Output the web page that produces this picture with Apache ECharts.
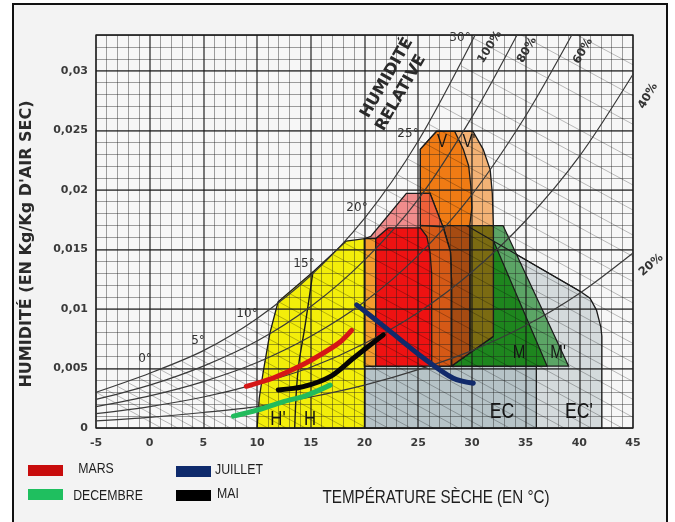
<!DOCTYPE html>
<html>
<head>
<meta charset="utf-8">
<script src="https://cdn.jsdelivr.net/npm/echarts@6/dist/echarts.min.js"></script>
<style>
  html, body { margin: 0; padding: 0; background: #ffffff; }
  #frame { position: absolute; left: 12px; top: 3px; width: 652px; height: 530px;
           border: 2px solid #111; background: #f3f3f3; }
  #chart { position: absolute; left: 0; top: 0; width: 675px; height: 522px; }
</style>
</head>
<body>
<div id="frame"></div>
<div id="chart"></div>
<script>
// ---- Axis ticks -------------------------------------------------------
const yTickValues = [0, 0.005, 0.01, 0.015, 0.02, 0.025, 0.03];
const yTickLabels = ['0', '0,005', '0,01', '0,015', '0,02', '0,025', '0,03'];

// ---- Relative humidity curves [dry-bulb °C, kg/kg] --------------------
const rh100 = [[-5, 0.0030], [0, 0.0046], [5, 0.0065], [10, 0.0092], [15, 0.0128], [20, 0.0176], [25, 0.0241], [30.3, 0.0330]];
const rh80  = [[-5, 0.0024], [0, 0.0036], [5, 0.0052], [10, 0.0073], [15, 0.0102], [20, 0.0141], [25, 0.0192], [30, 0.0261], [34.2, 0.0330]];
const rh60  = [[-5, 0.0018], [0, 0.0027], [5, 0.0039], [10, 0.0055], [15, 0.0077], [20, 0.0106], [25, 0.0145], [30, 0.0196], [35, 0.0262], [39.3, 0.0330]];
const rh40  = [[-5, 0.0012], [0, 0.0018], [5, 0.0026], [10, 0.0037], [15, 0.0051], [20, 0.0071], [25, 0.0097], [30, 0.0131], [35, 0.0174], [40, 0.0228], [45, 0.0297]];
const rh20  = [[-5, 0.0006], [0, 0.0009], [5, 0.0013], [10, 0.0018], [15, 0.0026], [20, 0.0036], [25, 0.0049], [30, 0.0065], [35, 0.0086], [40, 0.0113], [45, 0.0147]];

// ---- Wet-bulb lines: [T start, w start, T end, w end] ------------------
const wetBulbLines = [
  [-5, 0.0030, 1.1, 0], [-4, 0.0032, 2.6, 0], [-3, 0.0035, 4.2, 0], [-2, 0.0038, 5.8, 0],
  [-1, 0.0042, 7.5, 0], [0, 0.0046, 9.3, 0], [1, 0.0049, 11, 0], [2, 0.0053, 12.7, 0],
  [3, 0.0056, 14.5, 0], [4, 0.0061, 16.4, 0], [5, 0.0065, 18.3, 0], [6, 0.0070, 20.2, 0],
  [7, 0.0074, 22.2, 0], [8, 0.0080, 24.3, 0], [9, 0.0085, 26.4, 0], [10, 0.0092, 28.8, 0],
  [11, 0.0099, 31.1, 0], [12, 0.0106, 33.5, 0], [13, 0.0113, 36, 0], [14, 0.0121, 38.6, 0],
  [15, 0.0128, 41.1, 0], [16, 0.0137, 44, 0], [17, 0.0146, 45, 0.0009], [18, 0.0156, 45, 0.0024],
  [19, 0.0166, 45, 0.0039], [20, 0.0177, 45, 0.0055], [21, 0.0188, 45, 0.0071], [22, 0.0200, 45, 0.0087],
  [23, 0.0213, 45, 0.0105], [24, 0.0226, 45, 0.0123], [25, 0.0242, 45, 0.0144], [26, 0.0255, 45, 0.0162],
  [27, 0.0271, 45, 0.0183], [28, 0.0287, 45, 0.0204], [29, 0.0304, 45, 0.0226], [30, 0.0328, 45, 0.0255],
  [34.6, 0.0330, 45, 0.0279], [39.8, 0.0330, 45, 0.0305]
];

// ---- Bioclimatic zones (polygon vertices) ------------------------------
const zoneECprime = [[29.5, 0], [42.1, 0], [42.1, 0.0077], [42.0, 0.0085], [41.6, 0.0099], [41.0, 0.0109], [40.1, 0.01146], [29.5, 0.0170]];
const zoneEC      = [[20, 0], [36, 0], [36, 0.0052], [20, 0.0052]];
const zoneH       = [[10, 0], [10.2, 0.0025], [10.55, 0.0046], [11.2, 0.0080], [11.95, 0.0106], [15.2, 0.0131], [18.3, 0.0157], [20, 0.0159], [20, 0]];
const dividerHH   = [[13.5, 0], [13.65, 0.0030], [13.9, 0.0055], [14.45, 0.0085], [15.2, 0.0131]];
const zoneMprime  = [[25.2, 0.0052], [39, 0.0052], [32.9, 0.0170], [25.2, 0.0170]];
const zoneM       = [[25.2, 0.0052], [37, 0.0052], [31.4, 0.0170], [25.2, 0.0170]];
const zoneVprime  = [[25.2, 0.0052], [28.1, 0.0052], [32, 0.0077], [32, 0.0169], [31.9, 0.0197], [31.7, 0.0217], [31.05, 0.0234], [30.1, 0.0249], [26.7, 0.0249], [25.2, 0.0234]];
const zoneVpM     = [[29.8, 0.0063], [32, 0.0077], [32, 0.0170], [29.8, 0.0170]];
const zoneV       = [[25.2, 0.0052], [28.1, 0.0052], [29.8, 0.0063], [29.8, 0.0170], [30, 0.0185], [29.9, 0.0203], [29.7, 0.0220], [29.2, 0.0234], [28.4, 0.0249], [26.7, 0.0249], [25.2, 0.0234]];
const zoneVM      = [[28.1, 0.0052], [29.8, 0.0063], [29.8, 0.0170], [27.3, 0.0170], [28, 0.0148], [28.1, 0.0124]];
const zoneP       = [[20, 0.0052], [20, 0.0159], [20.6, 0.0161], [23.9, 0.0197], [26.1, 0.0197], [27.3, 0.0169], [28, 0.0148], [28.1, 0.0124], [28.1, 0.0052]];
const zonePV      = [[25.2, 0.0170], [25.2, 0.0197], [26.1, 0.0197], [27.3, 0.0169]];
const zonePVM     = [[25.2, 0.0052], [25.2, 0.0170], [27.3, 0.0169], [28, 0.0148], [28.1, 0.0124], [28.1, 0.0052]];
const zonePH      = [[20, 0.0052], [21.05, 0.0052], [21.05, 0.0159], [20, 0.0159]];
const zoneC       = [[21.05, 0.0052], [21.05, 0.0159], [22.2, 0.0168], [25.2, 0.0168], [25.8, 0.0161], [26.1, 0.0148], [26.25, 0.0130], [26.26, 0.0052]];
const ecPrimeEdge = [[29.5, 0.0170], [40.1, 0.01146]];

// ---- Monthly climate lines ---------------------------------------------
const mars     = [[9.0, 0.0035], [11.5, 0.0042], [14.0, 0.0052], [16.0, 0.0062], [17.7, 0.0072], [18.8, 0.0082]];
const mai      = [[11.97, 0.0032], [14.3, 0.00347], [16.8, 0.00431], [18.96, 0.00586], [21.75, 0.00782]];
const decembre = [[7.8, 0.0010], [10, 0.0015], [12.4, 0.0022], [14.5, 0.0027], [16.8, 0.0036]];
const juillet  = [[19.27, 0.01034], [22.22, 0.00824], [25.33, 0.00599], [28.27, 0.00418], [30.13, 0.00376]];

const NARROW = '"Liberation Sans", Arial, sans-serif';
const WIDE = '"DejaVu Sans", Verdana, sans-serif';

function zoneSeries(name, pts, fill) {
  return {
    type: 'custom', name: name, z: 1, silent: true,
    data: [[20, 0]],
    renderItem: function (params, api) {
      return {
        type: 'polygon',
        shape: { points: pts.map(function (p) { return api.coord(p); }) },
        style: { fill: fill, stroke: '#1b1b1b', lineWidth: 1.3 }
      };
    }
  };
}

function curveSeries(data, color, width, z, smooth) {
  return {
    type: 'line', data: data, z: z, silent: true, symbol: 'none', showSymbol: false,
    smooth: smooth,
    lineStyle: { color: color, width: width, cap: 'round', join: 'round' }
  };
}

// sx < 1 squeezes the glyphs horizontally for a condensed look
function txt(text, x, y, font, fill, rot, sx) {
  return {
    type: 'text', x: x, y: y, z: 100, rotation: rot || 0, scaleX: sx || 1, silent: true,
    style: { text: text, font: font, fill: fill,
             align: 'center', verticalAlign: 'middle',
             textAlign: 'center', textVerticalAlign: 'middle' }
  };
}

function swatch(x, y, color) {
  return { type: 'rect', z: 100, silent: true, shape: { x: x, y: y, width: 35, height: 11 }, style: { fill: color } };
}

const chart = echarts.init(document.getElementById('chart'), null, { renderer: 'canvas' });

const series = [
  zoneSeries('EC\'', zoneECprime, '#d4dadc'),
  zoneSeries('EC', zoneEC, '#b6c3c7'),
  zoneSeries('H', zoneH, '#f3ee0a'),
  zoneSeries('M\'', zoneMprime, '#5ca566'),
  zoneSeries('M', zoneM, '#1e861e'),
  zoneSeries('V\'', zoneVprime, '#f3b275'),
  zoneSeries('V\'+M', zoneVpM, '#7b6b12'),
  zoneSeries('V', zoneV, '#f07b14'),
  zoneSeries('V+M', zoneVM, '#a64b12'),
  zoneSeries('P', zoneP, '#f08c8c'),
  zoneSeries('P+V', zonePV, '#ef6039'),
  zoneSeries('P+V+M', zonePVM, '#d55916'),
  zoneSeries('P+H', zonePH, '#f39b2e'),
  zoneSeries('C', zoneC, '#ee1212'),
  curveSeries(dividerHH, '#1b1b1b', 1.4, 1, 0.3),
  {
    type: 'custom', name: 'wet-bulb', z: 2, silent: true,
    data: wetBulbLines,
    encode: { x: [0, 2], y: [1, 3] },
    renderItem: function (params, api) {
      const a = api.coord([api.value(0), api.value(1)]);
      const b = api.coord([api.value(2), api.value(3)]);
      return { type: 'line', shape: { x1: a[0], y1: a[1], x2: b[0], y2: b[1] },
               style: { stroke: 'rgba(0,0,0,0.26)', lineWidth: 1 } };
    }
  },
  curveSeries(rh100, '#3a3a3a', 1.2, 4, 0.3),
  curveSeries(rh80, '#3a3a3a', 1.2, 4, 0.3),
  curveSeries(rh60, '#3a3a3a', 1.2, 4, 0.3),
  curveSeries(rh40, '#3a3a3a', 1.2, 4, 0.3),
  curveSeries(rh20, '#3a3a3a', 1.2, 4, 0.3),
  curveSeries(ecPrimeEdge, '#1b1b1b', 1.2, 4, false),
  curveSeries(mars, '#d51616', 5, 6, 0.3),
  curveSeries(decembre, '#22bb5c', 5, 6, 0.3),
  curveSeries(mai, '#050505', 5, 6, 0.3),
  curveSeries(juillet, '#112a6b', 5, 6, 0.3)
];

const graphics = [
  txt('HUMIDITÉ (EN Kg/Kg D\'AIR SEC)', 27, 244, 'bold 16px ' + WIDE, '#2a2a2a', Math.PI / 2),
  txt('TEMPÉRATURE SÈCHE (EN °C)', 436, 498, '19px ' + NARROW, '#1e1e1e', 0, 0.8),
  txt('HUMIDITÉ', 387, 78, 'bold 16px ' + WIDE, '#2a2a2a', Math.PI / 3),
  txt('RELATIVE', 401, 93, 'bold 16px ' + WIDE, '#2a2a2a', Math.PI / 3),
  txt('100%', 490, 47, 'bold 11.5px ' + WIDE, '#333', Math.PI * 58 / 180),
  txt('80%', 527, 50, 'bold 11.5px ' + WIDE, '#333', Math.PI / 3),
  txt('60%', 583, 51, 'bold 11.5px ' + WIDE, '#333', Math.PI / 3),
  txt('40%', 648, 96, 'bold 11.5px ' + WIDE, '#333', Math.PI / 3),
  txt('20%', 651, 265, 'bold 11.5px ' + WIDE, '#333', Math.PI * 40 / 180),
  txt('0°', 145, 359, '12px ' + WIDE, '#333'),
  txt('5°', 198, 341, '12px ' + WIDE, '#333'),
  txt('10°', 247, 314, '12px ' + WIDE, '#333'),
  txt('15°', 304, 264, '12px ' + WIDE, '#333'),
  txt('20°', 357, 208, '12px ' + WIDE, '#333'),
  txt('25°', 408, 134, '12px ' + WIDE, '#333'),
  txt('30°', 460, 38, '12px ' + WIDE, '#333'),
  txt('H\'', 278, 419, '21px ' + NARROW, '#151515', 0, 0.8),
  txt('H', 310, 419, '21px ' + NARROW, '#151515', 0, 0.8),
  txt('V', 442, 142, '19px ' + NARROW, '#151515', 0, 0.8),
  txt('V\'', 469, 142, '19px ' + NARROW, '#151515', 0, 0.8),
  txt('M', 519, 353, '19px ' + NARROW, '#151515', 0, 0.8),
  txt('M\'', 558, 353, '19px ' + NARROW, '#151515', 0, 0.8),
  txt('EC', 502, 412, '22px ' + NARROW, '#151515', 0, 0.8),
  txt('EC\'', 579, 412, '22px ' + NARROW, '#151515', 0, 0.8),
  swatch(28, 465, '#c80c0c'),
  swatch(28, 489, '#1fbf5f'),
  swatch(176, 466, '#0e2a6c'),
  swatch(176, 490, '#000000'),
  txt('MARS', 96, 469, '15px ' + NARROW, '#1e1e1e', 0, 0.82),
  txt('DECEMBRE', 108, 496, '15px ' + NARROW, '#1e1e1e', 0, 0.82),
  txt('JUILLET', 239, 470, '15px ' + NARROW, '#1e1e1e', 0, 0.82),
  txt('MAI', 228, 494, '15px ' + NARROW, '#1e1e1e', 0, 0.82)
];

chart.setOption({
  animation: false,
  backgroundColor: 'transparent',
  grid: { left: 96, right: 42, top: 35, bottom: 94, show: true,
          backgroundColor: '#f7f7f7', borderColor: '#444', borderWidth: 1.4 },
  xAxis: [{
    type: 'value', min: -5, max: 45, interval: 5, z: 3,
    axisLine: { show: false }, axisTick: { show: false },
    axisLabel: { color: '#3a3a3a', fontFamily: WIDE, fontWeight: 'bold', fontSize: 11, margin: 10 },
    splitLine: { show: true, lineStyle: { color: 'rgba(25,25,25,0.72)', width: 1.6 } },
    minorTick: { show: false, splitNumber: 5 },
    minorSplitLine: { show: true, lineStyle: { color: 'rgba(30,30,30,0.42)', width: 1 } }
  }],
  yAxis: [{
    type: 'value', min: 0, max: 0.033, interval: 0.005, z: 3,
    axisLine: { show: false }, axisTick: { show: false },
    axisLabel: {
      color: '#3a3a3a', fontFamily: WIDE, fontWeight: 'bold', fontSize: 11, margin: 8,
      formatter: function (v) {
        for (let i = 0; i < yTickValues.length; i++) {
          if (Math.abs(v - yTickValues[i]) < 1e-9) return yTickLabels[i];
        }
        return '';
      }
    },
    splitLine: { show: true, lineStyle: { color: 'rgba(25,25,25,0.72)', width: 1.6 } }
  }, {
    type: 'value', min: 0, max: 0.033, interval: 0.001, position: 'right', z: 2,
    axisLine: { show: false }, axisTick: { show: false }, axisLabel: { show: false },
    splitLine: { show: true, lineStyle: { color: 'rgba(30,30,30,0.42)', width: 1 } }
  }],
  series: series,
  graphic: { elements: graphics }
});
</script>
</body>
</html>
